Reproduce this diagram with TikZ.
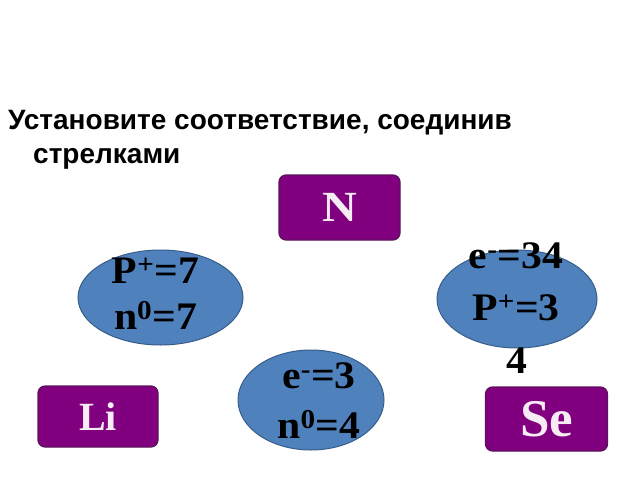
\documentclass[tikz,border=0pt]{standalone}
\usepackage{fontspec}
\setmainfont{Liberation Serif}
\newfontfamily\titlefont{Liberation Sans}
\usetikzlibrary{shapes.geometric}
\definecolor{boxpurple}{RGB}{128,0,128}
\definecolor{boxedge}{RGB}{90,20,90}
\definecolor{boxtext}{RGB}{248,236,244}
\definecolor{ellfill}{RGB}{79,129,189}
\definecolor{elledge}{RGB}{56,93,138}
\newcommand{\wide}[1]{\scalebox{1.07}[1]{#1}}
\tikzset{
  elbox/.style={draw=boxedge, line width=1.2pt, fill=boxpurple, rounded corners=7pt, text=boxtext, font=\bfseries, inner sep=0pt},
  atom/.style={draw=elledge, line width=1pt, fill=ellfill, ellipse, inner sep=0pt},
  lbl/.style={font=\bfseries\fontsize{39}{39}\selectfont, text=black, inner sep=0pt, anchor=base},
  ttl/.style={font=\titlefont\bfseries\fontsize{28}{32}\selectfont, inner sep=0pt, anchor=base west}
}
\begin{document}
\begin{tikzpicture}[x=1pt,y=-1pt]
\useasboundingbox (0,0) rectangle (640,480);
\node[ttl] (t1) at (8,129) {Установите соответствие, соединив};
\node[ttl] (t2) at (33,163) {стрелками};
% element boxes
\node[elbox, minimum width=121pt, minimum height=65pt, font=\bfseries\fontsize{43}{43}\selectfont] (N) at (339.5,207.5) {\scalebox{1.12}[1]{N}};
\node[elbox, minimum width=120pt, minimum height=61pt, font=\bfseries\fontsize{40}{40}\selectfont] (Li) at (98,416.5) {Li};
\node[elbox, minimum width=122pt, minimum height=64pt, font=\bfseries\fontsize{53}{53}\selectfont] (Se) at (546.5,419) {Se};
% ellipses
\node[atom, minimum width=165pt, minimum height=95pt] (a1) at (160.5,297.5) {};
\node[atom, minimum width=160pt, minimum height=98pt] (a2) at (517,299) {};
\node[atom, minimum width=146pt, minimum height=100pt] (a3) at (311,400) {};
% ellipse texts
\node[lbl] (a1l1) at (155.5,283) {\wide{P\textsuperscript{+}=7}};
\node[lbl] (a1l2) at (155.5,329) {\wide{n\textsuperscript{0}=7}};
\node[lbl] (a2l1) at (516,268) {\wide{e\textsuperscript{-}=34}};
\node[lbl] (a2l2) at (516,320) {\wide{P\textsuperscript{+}=3}};
\node[lbl] (a2l3) at (517,373) {\wide{4}};
\node[lbl] (a3l1) at (319,388) {\wide{e\textsuperscript{-}=3}};
\node[lbl] (a3l2) at (319,438) {\wide{n\textsuperscript{0}=4}};
\end{tikzpicture}
\end{document}
